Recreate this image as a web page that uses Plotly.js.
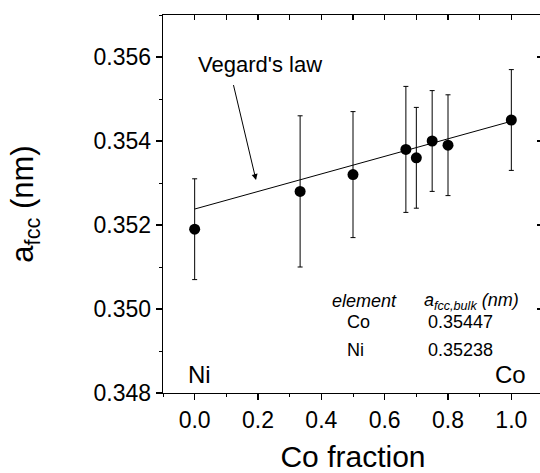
<!DOCTYPE html>
<html>
<head>
<meta charset="utf-8">
<script src="https://cdn.plot.ly/plotly-3.0.1.min.js"></script>
<style>
html, body { margin: 0; padding: 0; overflow: hidden; background: #fff; }
#chart { width: 543px; height: 473px; }
</style>
</head>
<body>
<div id="chart"></div>
<script>
// Measured lattice parameters
const coFraction = [0.0, 0.333, 0.5, 0.667, 0.7, 0.75, 0.8, 1.0];
const aFcc = [0.3519, 0.3528, 0.3532, 0.3538, 0.3536, 0.3540, 0.3539, 0.3545];
const aFccErr = [0.0012, 0.0018, 0.0015, 0.0015, 0.0012, 0.0012, 0.0012, 0.0012];

// Bulk values (Vegard's law end points)
const elements = ["Co", "Ni"];
const aBulk = [0.35447, 0.35238];
const vegardX = [0.0, 1.0];
const vegardY = [aBulk[1], aBulk[0]];

const FONT = "Liberation Sans, Arial, Helvetica, sans-serif";

const traces = [
  {
    x: vegardX, y: vegardY, mode: "lines", type: "scatter",
    line: { color: "#000", width: 1 }, hoverinfo: "skip", showlegend: false
  },
  {
    x: coFraction, y: aFcc, mode: "markers", type: "scatter",
    marker: { color: "#000", size: 11 },
    error_y: { type: "data", array: aFccErr, visible: true, color: "#000", thickness: 1, width: 2.5 },
    showlegend: false
  },
  { x: [], y: [], xaxis: "x2", yaxis: "y2", type: "scatter", mode: "markers", showlegend: false, hoverinfo: "skip" }
];

const axCommon = {
  showgrid: false, zeroline: false, showline: true, linecolor: "#000", linewidth: 1.3,
  tickcolor: "#000", tickwidth: 1.2, color: "#000"
};

const layout = {
  width: 543, height: 473,
  margin: { l: 163, r: 0, t: 15, b: 80 },
  paper_bgcolor: "#fff", plot_bgcolor: "#fff",
  font: { family: FONT, color: "#000", size: 22 },
  showlegend: false,
  xaxis: Object.assign({}, axCommon, {
    range: [-0.1, 1.1], dtick: 0.2, tick0: 0, tickformat: ".1f",
    ticks: "outside", ticklen: 6,
    minor: { dtick: 0.1, tick0: 0, ticks: "outside", ticklen: 3, tickcolor: "#000", tickwidth: 1 },
    tickfont: { size: 23, family: FONT },
    title: { text: "Co fraction", font: { size: 30, family: FONT }, standoff: 18 }
  }),
  yaxis: Object.assign({}, axCommon, {
    range: [0.348, 0.357], dtick: 0.002, tick0: 0.348, tickformat: ".3f",
    ticks: "outside", ticklen: 6,
    minor: { dtick: 0.001, tick0: 0.348, ticks: "outside", ticklen: 3, tickcolor: "#000", tickwidth: 1 },
    tickfont: { size: 23, family: FONT },
    title: { text: "a<sub>fcc</sub> (nm)", font: { size: 31, family: FONT }, standoff: 50 }
  }),
  xaxis2: Object.assign({}, axCommon, {
    overlaying: "x", side: "top", range: [-0.1, 1.1], dtick: 0.1, tick0: 0,
    ticks: "inside", ticklen: 5, showticklabels: false
  }),
  yaxis2: Object.assign({}, axCommon, {
    overlaying: "y", side: "right", range: [0.348, 0.357], dtick: 0.002, tick0: 0.348,
    ticks: "inside", ticklen: 6, showticklabels: false,
    minor: { dtick: 0.001, tick0: 0.348, ticks: "inside", ticklen: 3, tickcolor: "#000", tickwidth: 1 }
  }),
  annotations: [
    { x: 0.2063, y: 0.35581, xref: "x", yref: "y", text: "Vegard's law", showarrow: false,
      font: { size: 22, family: FONT } },
    { x: 0.1937, y: 0.35307, xref: "x", yref: "y", text: " ", showarrow: true,
      ax: -23, ay: -97, arrowhead: 2, arrowsize: 1.2, arrowwidth: 1, arrowcolor: "#000",
      font: { size: 1 } },
    { x: 0.4274, y: 0.35019, xref: "x", yref: "y", xanchor: "left", text: "<i>element</i>",
      showarrow: false, font: { size: 18, family: FONT } },
    { x: 0.7179, y: 0.35019, xref: "x", yref: "y", xanchor: "left",
      text: "<i>a<sub>fcc,bulk</sub> (nm)</i>", showarrow: false, font: { size: 18, family: FONT } },
    { x: 0.4747, y: 0.34969, xref: "x", yref: "y", xanchor: "left", text: elements[0],
      showarrow: false, font: { size: 18, family: FONT } },
    { x: 0.7305, y: 0.34969, xref: "x", yref: "y", xanchor: "left", text: aBulk[0].toFixed(5),
      showarrow: false, font: { size: 18, family: FONT } },
    { x: 0.4747, y: 0.34902, xref: "x", yref: "y", xanchor: "left", text: elements[1],
      showarrow: false, font: { size: 18, family: FONT } },
    { x: 0.7305, y: 0.34902, xref: "x", yref: "y", xanchor: "left", text: aBulk[1].toFixed(5),
      showarrow: false, font: { size: 18, family: FONT } },
    { x: 0.0137, y: 0.348452, xref: "x", yref: "y", text: "Ni", showarrow: false,
      font: { size: 24, family: FONT } },
    { x: 0.9958, y: 0.348452, xref: "x", yref: "y", text: "Co", showarrow: false,
      font: { size: 24, family: FONT } }
  ]
};

Plotly.newPlot("chart", traces, layout, { staticPlot: true, displayModeBar: false });
</script>
</body>
</html>
